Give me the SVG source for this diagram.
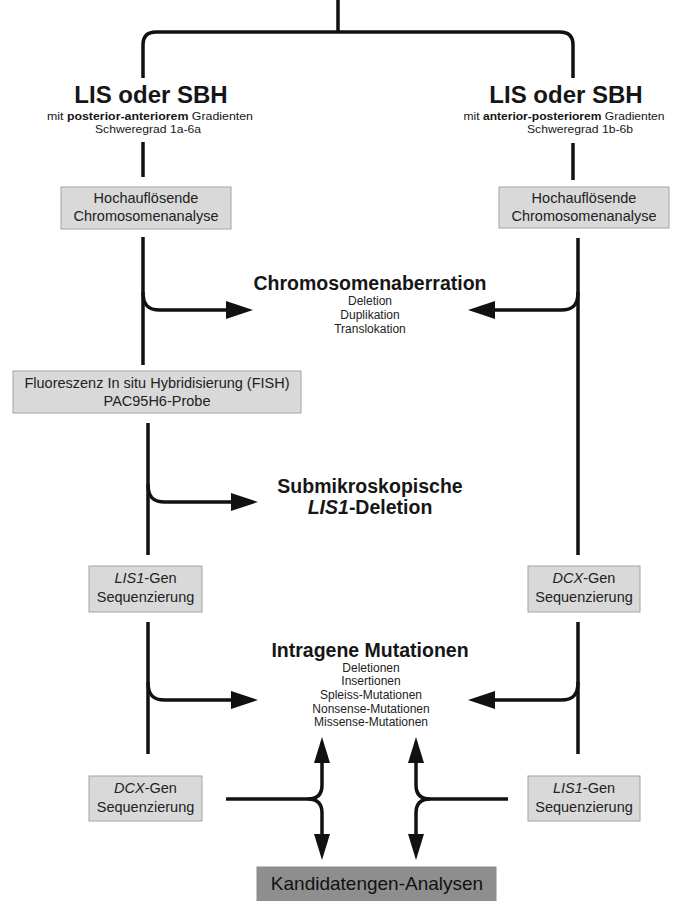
<svg xmlns="http://www.w3.org/2000/svg" width="679" height="901" viewBox="0 0 679 901">
<style>
text{font-family:"Liberation Sans",Arial,sans-serif;fill:#161616}
.title{font-size:24px;font-weight:bold;text-anchor:middle}
.sub{font-size:11.5px;text-anchor:middle}
.head{font-size:19.5px;font-weight:bold;text-anchor:middle}
.item{font-size:12px;text-anchor:middle;fill:#222}
.btxt{font-size:14.5px;text-anchor:middle;fill:#222}
.box{fill:#d9d9d9;stroke:#a3a3a3;stroke-width:1}
.dbox{fill:#8e8e8e;stroke:#8a8a8a;stroke-width:1}
.ln{fill:none;stroke:#111;stroke-width:3.5}
.ar{fill:none;stroke:#111;stroke-width:3.5;marker-end:url(#ah)}
.ars{fill:none;stroke:#111;stroke-width:3.5;marker-end:url(#ahs)}
</style>
<defs>
<marker id="ah" viewBox="0 -9 27 18" refX="0" refY="0" markerWidth="27" markerHeight="18" markerUnits="userSpaceOnUse" orient="auto" overflow="visible">
<path d="M0,-9 L27,0 L0,9 z" fill="#111"/>
</marker>
<marker id="ahs" viewBox="0 -8 26 16" refX="0" refY="0" markerWidth="26" markerHeight="16" markerUnits="userSpaceOnUse" orient="auto" overflow="visible">
<path d="M0,-8 L26,0 L0,8 z" fill="#111"/>
</marker>
</defs>
<rect width="679" height="901" fill="#fff"/>

<g id="connectors">
<path class="ln" d="M338,0 L338,32 M143,78 L143,45 Q143,32 156,32 L560,32 Q573,32 573,45 L573,78"/>
<path class="ln" d="M143,142 L143,177"/>
<path class="ln" d="M573,143 L573,180"/>
<path class="ln" d="M143,237 L143,365"/>
<path class="ar" d="M143,292 C143,305 148,310 160,310 L226,310"/>
<path class="ln" d="M578,238 L578,555"/>
<path class="ar" d="M578,292 C578,305 573,310 561,310 L495,310"/>
<path class="ln" d="M148,423 L148,555"/>
<path class="ar" d="M148,484 C148,497 153,502 165,502 L231,502"/>
<path class="ln" d="M148,622 L148,754"/>
<path class="ar" d="M148,682 C148,695 153,700 165,700 L231,700"/>
<path class="ln" d="M578,622 L578,754"/>
<path class="ar" d="M578,682 C578,695 573,700 561,700 L495,700"/>
<path class="ln" d="M226,799 L308,799"/>
<path class="ars" d="M308,799 Q322,799 322,785 L322,763"/>
<path class="ars" d="M308,799 Q322,799 322,813 L322,834"/>
<path class="ln" d="M508,799 L430,799"/>
<path class="ars" d="M430,799 Q416,799 416,785 L416,763"/>
<path class="ars" d="M430,799 Q416,799 416,813 L416,834"/>
</g>

<g id="start-left">
<text class="title" x="151" y="103">LIS oder SBH</text>
<text class="sub" x="150" y="120" textLength="206" lengthAdjust="spacingAndGlyphs">mit <tspan font-weight="bold">posterior-anteriorem</tspan> Gradienten</text>
<text class="sub" x="148" y="133" textLength="106" lengthAdjust="spacingAndGlyphs">Schweregrad 1a-6a</text>
</g>
<g id="start-right">
<text class="title" x="566" y="103">LIS oder SBH</text>
<text class="sub" x="564" y="120" textLength="201" lengthAdjust="spacingAndGlyphs">mit <tspan font-weight="bold">anterior-posteriorem</tspan> Gradienten</text>
<text class="sub" x="580" y="133" textLength="106" lengthAdjust="spacingAndGlyphs">Schweregrad 1b-6b</text>
</g>

<g id="chromo-left">
<rect class="box" x="61" y="187" width="170" height="42"/>
<text class="btxt" x="146" y="203">Hochauflösende</text>
<text class="btxt" x="146" y="221">Chromosomenanalyse</text>
</g>
<g id="chromo-right">
<rect class="box" x="499" y="187" width="170" height="41"/>
<text class="btxt" x="584" y="203">Hochauflösende</text>
<text class="btxt" x="584" y="221">Chromosomenanalyse</text>
</g>

<g id="aberration">
<text class="head" x="370" y="290">Chromosomenaberration</text>
<text class="item" x="370" y="305">Deletion</text>
<text class="item" x="370" y="319">Duplikation</text>
<text class="item" x="370" y="333">Translokation</text>
</g>

<g id="fish">
<rect class="box" x="13" y="371" width="288" height="42"/>
<text class="btxt" x="157" y="388">Fluoreszenz In situ Hybridisierung (FISH)</text>
<text class="btxt" x="157" y="406">PAC95H6-Probe</text>
</g>

<g id="submikro">
<text class="head" x="370" y="493">Submikroskopische</text>
<text class="head" x="370" y="514"><tspan font-style="italic">LIS1</tspan>-Deletion</text>
</g>

<g id="lis1-left">
<rect class="box" x="89" y="566" width="113" height="46"/>
<text class="btxt" x="145.5" y="583"><tspan font-style="italic">LIS1</tspan>-Gen</text>
<text class="btxt" x="145.5" y="602">Sequenzierung</text>
</g>
<g id="dcx-right">
<rect class="box" x="528" y="566" width="112" height="46"/>
<text class="btxt" x="584" y="583"><tspan font-style="italic">DCX</tspan>-Gen</text>
<text class="btxt" x="584" y="602">Sequenzierung</text>
</g>

<g id="intragen">
<text class="head" x="370" y="657">Intragene Mutationen</text>
<text class="item" x="371" y="672">Deletionen</text>
<text class="item" x="371" y="685">Insertionen</text>
<text class="item" x="371" y="699">Spleiss-Mutationen</text>
<text class="item" x="371" y="713">Nonsense-Mutationen</text>
<text class="item" x="371" y="726">Missense-Mutationen</text>
</g>

<g id="dcx-left">
<rect class="box" x="89" y="776" width="113" height="45"/>
<text class="btxt" x="145.5" y="793"><tspan font-style="italic">DCX</tspan>-Gen</text>
<text class="btxt" x="145.5" y="812">Sequenzierung</text>
</g>
<g id="lis1-right">
<rect class="box" x="528" y="776" width="112" height="45"/>
<text class="btxt" x="584" y="793"><tspan font-style="italic">LIS1</tspan>-Gen</text>
<text class="btxt" x="584" y="812">Sequenzierung</text>
</g>

<g id="kandidaten">
<rect class="dbox" x="257" y="867" width="239" height="40"/>
<text x="377" y="890" style="font-size:19px;text-anchor:middle;fill:#111">Kandidatengen-Analysen</text>
</g>
</svg>
